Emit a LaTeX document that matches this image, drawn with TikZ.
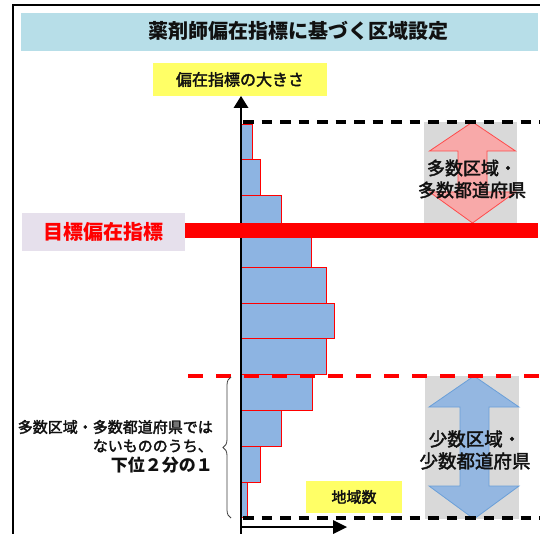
\documentclass[tikz,border=0pt]{standalone}
\usepackage{fontspec}
\setmainfont{Noto Sans CJK JP}
\newfontfamily\medfont{Noto Sans CJK JP}[FakeBold=2.2]
\usetikzlibrary{arrows.meta,decorations.pathreplacing}
\definecolor{titlebg}{HTML}{B7DEE8}
\definecolor{labelyellow}{HTML}{FFFF66}
\definecolor{lavender}{HTML}{E6E0EC}
\definecolor{boxgray}{HTML}{D9D9D9}
\definecolor{barblue}{HTML}{8DB4E2}
\definecolor{pinkfill}{HTML}{F8A9A9}
\definecolor{pinkline}{HTML}{FF4B4B}
\definecolor{blueline}{HTML}{6A9FD8}
\definecolor{txt}{HTML}{111111}
\tikzset{
  ylabel/.style={fill=labelyellow, inner sep=0pt, text=txt},
  graybox/.style={fill=boxgray, inner sep=0pt},
  histbar/.style={fill=barblue, draw=red, line width=0.9pt},
  axisline/.style={line width=2.8pt, line join=miter},
  blackdash/.style={line width=3.5pt, dash pattern=on 10.5pt off 8pt},
  reddash/.style={red, line width=4pt, dash pattern=on 15pt off 13pt},
  zonetext/.style={align=center, text=txt, inner sep=0pt},
}
\begin{document}
\begin{tikzpicture}[x=1pt,y=-1pt]
\useasboundingbox (0,0) rectangle (540,534);
\fill[white] (0,0) rectangle (540,534);
% frame
\draw[line width=2.4pt] (13,534) -- (13,5) -- (540,5);
% title
\node[fill=titlebg, minimum width=517pt, minimum height=38pt, inner sep=0pt] (titlebar) at (279.5,32) {};
\node[font=\fontsize{20}{24}\selectfont\bfseries, text=txt] (title) at (298.5,31) {薬剤師偏在指標に基づく区域設定};
% yellow labels
\node[ylabel, minimum width=174pt, minimum height=33pt, font=\fontsize{16}{19}\selectfont\medfont] (ylab) at (240,79.5) {偏在指標の大きさ};
\node[ylabel, minimum width=96pt, minimum height=32pt, font=\fontsize{15}{18}\selectfont\medfont] (xlab) at (354,497) {地域数};
% target label
\node[fill=lavender, minimum width=163pt, minimum height=38pt, inner sep=0pt, text=red, font=\fontsize{20}{24}\selectfont\bfseries] (target) at (103.5,232) {目標偏在指標};
% gray boxes
\node[graybox, minimum width=93pt, minimum height=101pt] (upbox) at (470.5,172.5) {};
\node[graybox, minimum width=94pt, minimum height=143pt] (lowbox) at (472,447.5) {};
% double arrows
\filldraw[fill=pinkfill, draw=pinkline, line width=0.8pt]
  (472.5,122) -- (515.5,151) -- (487,151) -- (487,192) -- (515.5,192) -- (472.5,223)
  -- (429.5,192) -- (458,192) -- (458,151) -- (429.5,151) -- cycle;
\filldraw[fill=barblue, fill opacity=0.9, draw=blueline, line width=0.8pt]
  (474,376) -- (519,407) -- (489,407) -- (489,486) -- (519,486) -- (474,519)
  -- (429,486) -- (460,486) -- (460,407) -- (429,407) -- cycle;
\node[zonetext, font=\fontsize{18}{22}\selectfont\medfont] (uptext) at (472,179) {多数区域・\\多数都道府県};
\node[zonetext, font=\fontsize{18.5}{22}\selectfont\medfont] (lowtext) at (475,450) {少数区域・\\少数都道府県};
% histogram
\foreach \t/\b/\r in {124/159.8/252, 159.8/195.6/260, 195.6/231.4/281, 231.4/267.2/311,
  267.2/303/326, 303/338.8/334, 338.8/374.6/326, 374.6/410.4/312, 410.4/446.2/281,
  446.2/482/260, 482/517.8/247}
  \draw[histbar] (241,\t) rectangle (\r,\b);
% axes
\coordinate (ytip) at (241,96);
\coordinate (yhead) at (241,108);
\coordinate (ybot) at (241,534);
\coordinate (origin) at (241,527);
\coordinate (xhead) at (333,527);
\coordinate (xtip) at (347,527);
\draw[axisline] (ybot) -- (yhead);
\draw[axisline] (origin) -- (xhead);
\fill (ytip) -- ([xshift=-7.5pt]yhead) -- ([xshift=7.5pt]yhead) -- cycle;
\fill (xtip) -- ([yshift=-7pt]xhead) -- ([yshift=7pt]xhead) -- cycle;
% target bar
\fill[red] (185,223) rectangle (538,238);
% dashed lines
\coordinate (topL) at (243,122);
\coordinate (topR) at (540,122);
\coordinate (botL) at (243,518);
\coordinate (botR) at (540,518);
\coordinate (midL) at (188,375.5);
\coordinate (midR) at (540,375.5);
\draw[blackdash] (topL) -- (topR);
\draw[blackdash] (botL) -- (botR);
\draw[reddash] (midL) -- (midR);
% brace and left text
\coordinate (brA) at (231,518);
\coordinate (brB) at (231,377);
\draw[decorate, decoration={brace, amplitude=8pt}, draw=black!75, line width=0.8pt] (brA) -- (brB);
\node[anchor=east, inner sep=0pt, text=txt, font=\fontsize{15}{18}\selectfont\medfont] (l1) at (213,427) {多数区域・多数都道府県では};
\node[anchor=east, inner sep=0pt, text=txt, font=\fontsize{15}{18}\selectfont\medfont] (l2) at (213,446) {ないもののうち、};
\node[anchor=east, inner sep=0pt, text=txt, font=\fontsize{17}{20}\selectfont\bfseries] (l3) at (213,465) {下位２分の１};
\end{tikzpicture}
\end{document}
